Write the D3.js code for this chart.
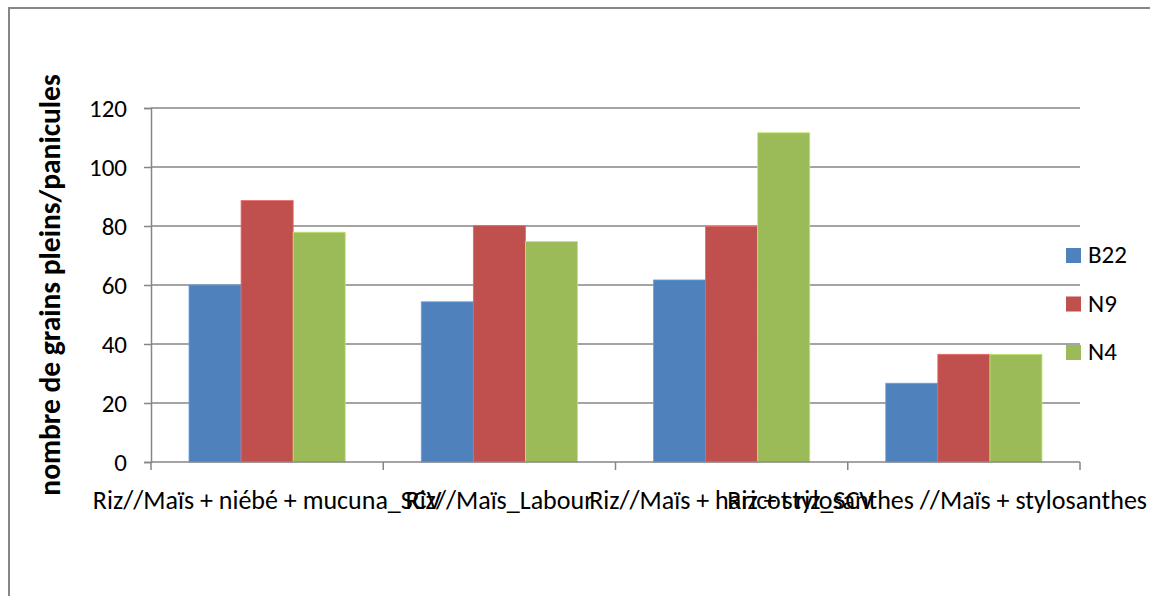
<!DOCTYPE html>
<html>
<head>
<meta charset="utf-8">
<script src="https://cdn.jsdelivr.net/npm/d3@7"></script>
<style>
  html, body { margin: 0; padding: 0; background: #fff; }
  svg { display: block; font-family: Carlito, Calibri, Lato, sans-serif; }
</style>
</head>
<body>
<svg id="chart" width="1150" height="596"></svg>
<script>
// Treatments (x categories)
const categories = [
  "Riz//Maïs + niébé + mucuna_SCV",
  "Riz//Maïs_Labour",
  "Riz//Maïs + haricot riz_SCV",
  "Riz + stylosanthes //Maïs +  stylosanthes"
];
// Rice varieties (series)
const seriesNames = ["B22", "N9", "N4"];
const seriesColors = ["#4F81BD", "#C0504D", "#9BBB59"];
// Filled grains per panicle, per variety, in category order
const valuesB22 = [60.0, 54.3, 61.7, 26.7];
const valuesN9  = [88.6, 80.1, 79.8, 36.5];
const valuesN4  = [77.9, 74.7, 111.6, 36.5];
const yTicks = [0, 20, 40, 60, 80, 100, 120];
const yTitle = "nombre de grains pleins/panicules";

const seriesValues = [valuesB22, valuesN9, valuesN4];

const svg = d3.select("#chart");
const W = 1150;
const plot = { left: 151, right: 1080, top: 108, bottom: 462 };
const gridColor = "#868686";
const fontSize = 25;
const catFontSize = 26;

// Chart area frame
svg.append("rect")
  .attr("x", 9).attr("y", 8)
  .attr("width", 1160).attr("height", 620)
  .attr("fill", "#fff")
  .attr("stroke", gridColor).attr("stroke-width", 2);

const y = d3.scaleLinear().domain([0, 120]).range([plot.bottom, plot.top]);
const x0 = d3.scaleBand().domain(categories).range([plot.left, plot.right]).paddingInner(0).paddingOuter(0);
const x1 = d3.scaleBand().domain(seriesNames).range([0, x0.bandwidth()]).paddingInner(0).paddingOuter(0.73);

// Horizontal gridlines
svg.append("g")
  .selectAll("line")
  .data(yTicks.filter(t => t > 0))
  .join("line")
  .attr("x1", plot.left).attr("x2", plot.right)
  .attr("y1", d => y(d)).attr("y2", d => y(d))
  .attr("stroke", gridColor).attr("stroke-width", 1.5);

// Bars
const groups = svg.append("g")
  .selectAll("g")
  .data(categories)
  .join("g")
  .attr("transform", d => `translate(${x0(d)},0)`);

groups.selectAll("rect")
  .data((c, ci) => seriesNames.map((s, si) => ({ s, si, v: seriesValues[si][ci] })))
  .join("rect")
  .attr("x", d => x1(d.s))
  .attr("y", d => y(d.v))
  .attr("width", x1.bandwidth())
  .attr("height", d => y(0) - y(d.v))
  .attr("fill", d => seriesColors[d.si])
  .attr("stroke", d => d3.color(seriesColors[d.si]).brighter(0.6))
  .attr("stroke-width", 0.8);

// Y axis
const yAxis = d3.axisLeft(y).tickValues(yTicks).tickSize(7).tickPadding(17);
const gy = svg.append("g").attr("transform", `translate(${plot.left},0)`).call(yAxis);
gy.select(".domain").attr("stroke", gridColor).attr("stroke-width", 1.5);
gy.selectAll(".tick line").attr("stroke", gridColor).attr("stroke-width", 1.5);
gy.selectAll(".tick text")
  .attr("font-size", fontSize).attr("fill", "#000")
  .attr("font-family", "Carlito, Calibri, Lato, sans-serif");

// X axis: baseline with tick marks on band edges
const xEdges = categories.map(c => x0(c)).concat([plot.right]);
svg.append("line")
  .attr("x1", plot.left).attr("x2", plot.right)
  .attr("y1", y(0)).attr("y2", y(0))
  .attr("stroke", gridColor).attr("stroke-width", 1.5);
svg.append("g")
  .selectAll("line")
  .data(xEdges)
  .join("line")
  .attr("x1", d => d).attr("x2", d => d)
  .attr("y1", y(0)).attr("y2", y(0) + 8)
  .attr("stroke", gridColor).attr("stroke-width", 1.5);

// Category labels, centred under each group; a label that would run past
// the right edge of the chart area is pulled back inside it.
const catLabels = svg.append("g")
  .selectAll("text")
  .data(categories)
  .join("text")
  .attr("y", 509)
  .attr("text-anchor", "middle")
  .attr("font-size", catFontSize)
  .attr("fill", "#000")
  .text(d => d);
catLabels.attr("x", function (d) {
  const c = x0(d) + x0.bandwidth() / 2;
  const half = this.getComputedTextLength() / 2;
  return Math.min(c, W - 3 - half);
});

// Y axis title
svg.append("text")
  .attr("transform", `translate(60,${(plot.top + plot.bottom) / 2}) rotate(-90)`)
  .attr("text-anchor", "middle")
  .attr("font-size", 29.5)
  .attr("font-weight", "bold")
  .attr("fill", "#000")
  .text(yTitle);

// Legend
const legend = svg.append("g")
  .selectAll("g")
  .data(seriesNames)
  .join("g")
  .attr("transform", (d, i) => `translate(1066,${255 + i * 48.5})`);
legend.append("rect")
  .attr("x", 0).attr("y", -7)
  .attr("width", 15).attr("height", 15)
  .attr("fill", (d, i) => seriesColors[i]);
legend.append("text")
  .attr("x", 22).attr("y", 8)
  .attr("font-size", fontSize)
  .attr("fill", "#000")
  .text(d => d);
</script>
</body>
</html>
